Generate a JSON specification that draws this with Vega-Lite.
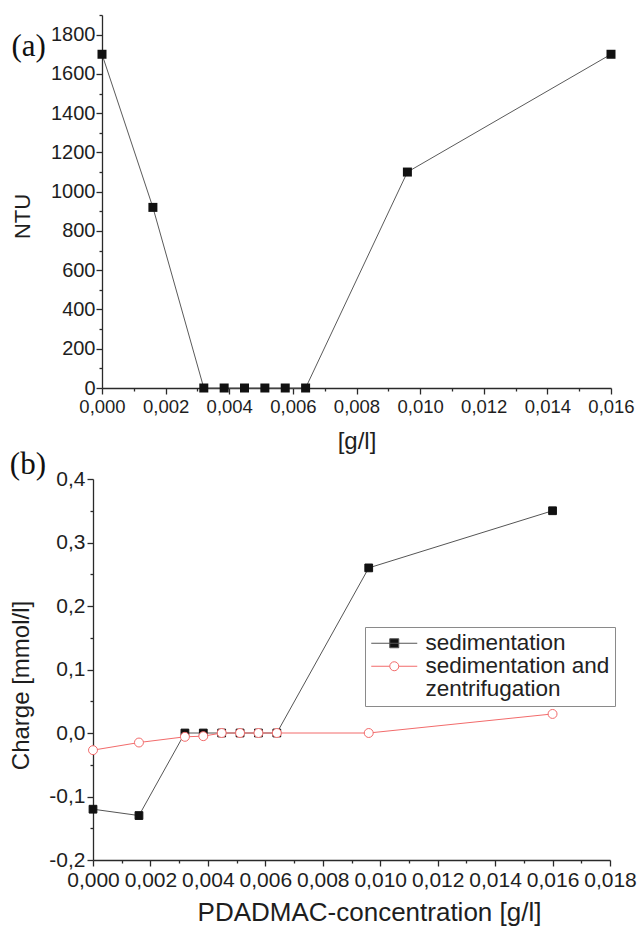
{
  "$schema": "https://vega.github.io/schema/vega-lite/v6.json",
  "background": "white",
  "padding": {"left": 9, "top": 14, "right": 5, "bottom": 2},
  "config": {
    "locale": {"number": {"decimal": ",", "thousands": ".", "grouping": [3], "currency": ["", ""], "minus": "-"}},
    "view": {"stroke": null},
    "font": "Liberation Sans",
    "axis": {
      "grid": false,
      "domainColor": "#2a2a2a",
      "tickColor": "#2a2a2a",
      "domainWidth": 1.3,
      "tickWidth": 1.3,
      "labelColor": "#1e1e1e",
      "titleColor": "#1e1e1e",
      "titleFontWeight": "normal",
      "labelFont": "Liberation Sans",
      "titleFont": "Liberation Sans",
      "labelOverlap": false,
      "labelFlush": false
    }
  },
  "columns": 1,
  "spacing": -5,
  "resolve": {"scale": {"color": "independent"}, "legend": {"color": "independent"}},
  "concat": [
    {
      "width": 518,
      "height": 373,
      "title": {"text": "(a)", "font": "Liberation Serif", "fontSize": 31, "fontWeight": "normal", "color": "#111", "anchor": "start", "frame": "bounds", "dy": 53},
      "data": {"values": [
        {"conc": 0.0, "ntu": 1700},
        {"conc": 0.0016, "ntu": 920},
        {"conc": 0.0032, "ntu": 0},
        {"conc": 0.00384, "ntu": 0},
        {"conc": 0.00448, "ntu": 0},
        {"conc": 0.00512, "ntu": 0},
        {"conc": 0.00576, "ntu": 0},
        {"conc": 0.0064, "ntu": 0},
        {"conc": 0.0096, "ntu": 1100},
        {"conc": 0.016, "ntu": 1700}
      ]},
      "layer": [
        {
          "mark": {"type": "line", "color": "#5a5a5a", "strokeWidth": 1},
          "encoding": {
            "x": {"field": "conc", "type": "quantitative",
              "scale": {"domain": [0, 0.016], "range": [9, 518], "nice": false, "zero": false},
              "axis": {"orient": "bottom", "values": [0, 0.002, 0.004, 0.006, 0.008, 0.01, 0.012, 0.014, 0.016], "format": ".3f",
                "labelFontSize": 18.5, "labelPadding": 3, "tickSize": 6, "title": "[g/l]", "titleFontSize": 24, "titlePadding": 14}},
            "y": {"field": "ntu", "type": "quantitative",
              "scale": {"domain": [0, 1900], "nice": false},
              "axis": {"orient": "left", "offset": -9, "values": [0, 200, 400, 600, 800, 1000, 1200, 1400, 1600, 1800], "format": "d",
                "labelFontSize": 20, "labelPadding": 1, "tickSize": 6, "title": "NTU", "titleFontSize": 22, "titlePadding": 16, "titleY": 201}}
          }
        },
        {
          "mark": {"type": "point", "shape": "square", "filled": true, "size": 81, "color": "#111", "opacity": 1},
          "encoding": {
            "x": {"field": "conc", "type": "quantitative",
              "axis": {"orient": "bottom", "values": [0.001, 0.003, 0.005, 0.007, 0.009, 0.011, 0.013, 0.015], "labels": false, "domain": false, "tickSize": 3, "title": null}},
            "y": {"field": "ntu", "type": "quantitative",
              "axis": {"orient": "left", "offset": -9, "values": [100, 300, 500, 700, 900, 1100, 1300, 1500, 1700, 1900], "labels": false, "domain": false, "tickSize": 3, "title": null}}
          }
        }
      ],
      "resolve": {"axis": {"x": "independent", "y": "independent"}}
    },
    {
      "width": 517,
      "height": 381,
      "title": {"text": "(b)", "font": "Liberation Serif", "fontSize": 31, "fontWeight": "normal", "color": "#111", "anchor": "start", "frame": "bounds", "offset": -13},
      "data": {"values": [
        {"series": "sedimentation", "conc": 0.0, "charge": -0.12},
        {"series": "sedimentation", "conc": 0.0016, "charge": -0.13},
        {"series": "sedimentation", "conc": 0.0032, "charge": 0.0},
        {"series": "sedimentation", "conc": 0.00384, "charge": 0.0},
        {"series": "sedimentation", "conc": 0.00448, "charge": 0.0},
        {"series": "sedimentation", "conc": 0.00512, "charge": 0.0},
        {"series": "sedimentation", "conc": 0.00576, "charge": 0.0},
        {"series": "sedimentation", "conc": 0.0064, "charge": 0.0},
        {"series": "sedimentation", "conc": 0.0096, "charge": 0.26},
        {"series": "sedimentation", "conc": 0.016, "charge": 0.35},
        {"series": "sedimentation and zentrifugation", "conc": 0.0, "charge": -0.027},
        {"series": "sedimentation and zentrifugation", "conc": 0.0016, "charge": -0.015},
        {"series": "sedimentation and zentrifugation", "conc": 0.0032, "charge": -0.006},
        {"series": "sedimentation and zentrifugation", "conc": 0.00384, "charge": -0.005},
        {"series": "sedimentation and zentrifugation", "conc": 0.00448, "charge": 0.0},
        {"series": "sedimentation and zentrifugation", "conc": 0.00512, "charge": 0.0},
        {"series": "sedimentation and zentrifugation", "conc": 0.00576, "charge": 0.0},
        {"series": "sedimentation and zentrifugation", "conc": 0.0064, "charge": 0.0},
        {"series": "sedimentation and zentrifugation", "conc": 0.0096, "charge": 0.0},
        {"series": "sedimentation and zentrifugation", "conc": 0.016, "charge": 0.03}
      ]},
      "layer": [
        {
          "mark": {"type": "line", "strokeWidth": 1},
          "encoding": {
            "x": {"field": "conc", "type": "quantitative",
              "scale": {"domain": [0, 0.018], "nice": false, "zero": false},
              "axis": {"orient": "bottom", "values": [0, 0.002, 0.004, 0.006, 0.008, 0.01, 0.012, 0.014, 0.016, 0.018], "format": ".3f",
                "labelFontSize": 21, "labelPadding": 3, "tickSize": 6, "title": "PDADMAC-concentration [g/l]", "titleFontSize": 26, "titlePadding": 9, "titleX": 276}},
            "y": {"field": "charge", "type": "quantitative",
              "scale": {"domain": [-0.2, 0.4], "nice": false, "zero": false},
              "axis": {"orient": "left", "values": [-0.2, -0.1, 0, 0.1, 0.2, 0.3, 0.4], "format": ".1f",
                "labelFontSize": 21, "labelPadding": 2, "tickSize": 6, "title": "Charge [mmol/l]", "titleFontSize": 24, "titlePadding": 15, "titleY": 206}},
            "color": {"field": "series", "type": "nominal",
              "scale": {"domain": ["sedimentation", "sedimentation and zentrifugation"], "range": ["#555555", "#f26b6b"]},
              "legend": {
                "orient": "none", "legendX": 272, "legendY": 148, "title": null,
                "strokeColor": "#8a8a8a", "padding": 5, "fillColor": "white",
                "labelFontSize": 22.5, "labelFont": "Liberation Sans", "labelColor": "#222", "labelLimit": 320,
                "symbolSize": 100, "symbolStrokeWidth": 1, "symbolOffset": 13, "labelOffset": 20, "rowPadding": 0,
                "labelExpr": "datum.label == 'sedimentation and zentrifugation' ? ['sedimentation and', '\u00a0zentrifugation'] : datum.label",
                "encode": {
                  "symbols": {"update": {
                    "shape": {"signal": "datum.value == 'sedimentation' ? 'M-4.6,0L4.6,0M-0.9,-0.9L0.9,-0.9L0.9,0.9L-0.9,0.9Z' : 'M-4.6,0L-0.9,0M0.9,0L4.6,0M0.9,0A0.9,0.9,0,1,1,-0.9,0A0.9,0.9,0,1,1,0.9,0Z'"},
                    "fill": {"signal": "datum.value == 'sedimentation' ? '#111' : 'white'"},
                    "stroke": {"signal": "datum.value == 'sedimentation' ? '#555555' : '#f26b6b'"},
                    "opacity": {"value": 1},
                    "strokeWidth": {"value": 1}
                  }},
                  "labels": {"update": {"lineHeight": {"value": 23}}}
                }
              }}
          }
        },
        {
          "mark": {"type": "point", "opacity": 1, "strokeWidth": 1},
          "encoding": {
            "x": {"field": "conc", "type": "quantitative",
              "axis": {"orient": "bottom", "values": [0.001, 0.003, 0.005, 0.007, 0.009, 0.011, 0.013, 0.015, 0.017], "labels": false, "domain": false, "tickSize": 3, "title": null}},
            "y": {"field": "charge", "type": "quantitative",
              "axis": {"orient": "left", "values": [-0.15, -0.05, 0.05, 0.15, 0.25, 0.35], "labels": false, "domain": false, "tickSize": 3, "title": null}},
            "shape": {"field": "series", "type": "nominal", "scale": {"domain": ["sedimentation", "sedimentation and zentrifugation"], "range": ["square", "circle"]}, "legend": null},
            "fill": {"field": "series", "type": "nominal", "scale": {"domain": ["sedimentation", "sedimentation and zentrifugation"], "range": ["#111", "white"]}, "legend": null},
            "stroke": {"field": "series", "type": "nominal", "scale": {"domain": ["sedimentation", "sedimentation and zentrifugation"], "range": ["#111", "#f26b6b"]}, "legend": null},
            "size": {"field": "series", "type": "nominal", "scale": {"domain": ["sedimentation", "sedimentation and zentrifugation"], "range": [60, 80]}, "legend": null}
          }
        }
      ],
      "resolve": {"axis": {"x": "independent", "y": "independent"}}
    }
  ]
}
